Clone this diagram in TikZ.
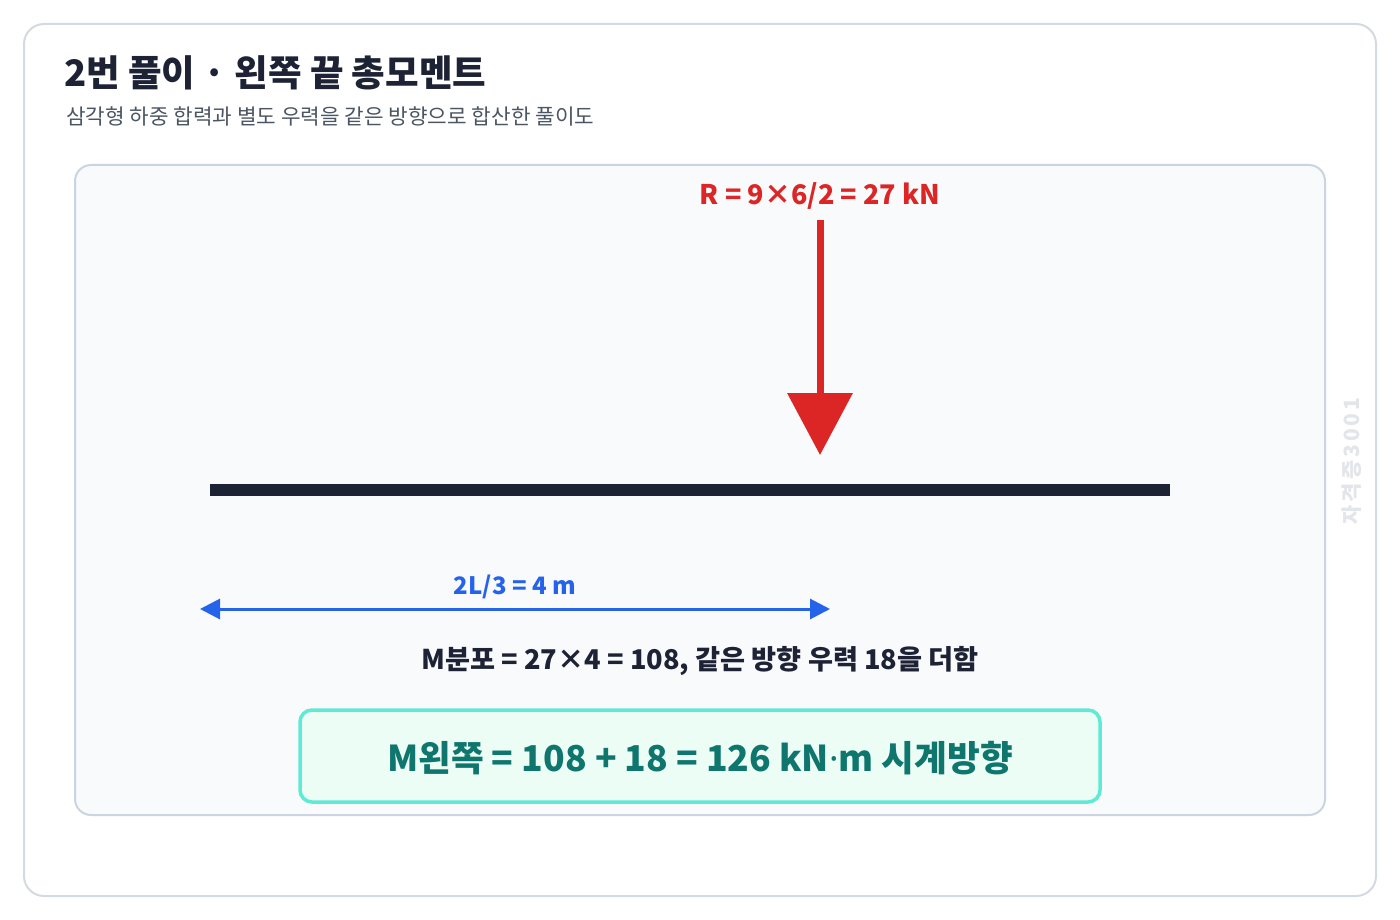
\documentclass[tikz,border=0pt]{standalone}
\usepackage{fontspec}
\setmainfont{Noto Sans CJK KR}
\newfontfamily\latinsans{Noto Sans}
\usetikzlibrary{arrows.meta}
\definecolor{ink}{HTML}{1E2235}
\definecolor{subgray}{HTML}{4B5563}
\definecolor{cardline}{HTML}{D5D9E0}
\definecolor{panelfill}{HTML}{F8FAFC}
\definecolor{panelline}{HTML}{CBD5E1}
\definecolor{forcered}{HTML}{DC2626}
\definecolor{dimblue}{HTML}{2563EB}
\definecolor{resfill}{HTML}{ECFDF5}
\definecolor{resline}{HTML}{5EEAD4}
\definecolor{restext}{HTML}{0F766E}
\definecolor{wmark}{HTML}{E2E5EA}
\tikzset{
  card/.style={draw=cardline, line width=2pt, fill=white, rounded corners=20pt},
  panel/.style={draw=panelline, line width=2pt, fill=panelfill, rounded corners=16pt},
  resbox/.style={draw=resline, line width=3.5pt, fill=resfill, rounded corners=12pt, minimum width=800pt, minimum height=92pt, inner sep=0pt},
  titletext/.style={font=\fontsize{36.5}{42}\selectfont\bfseries, text=ink, inner sep=0pt},
  subtext/.style={font=\fontsize{21.3}{25}\selectfont, text=subgray, inner sep=0pt},
  forcelabel/.style={font=\fontsize{27}{31}\selectfont\bfseries, text=forcered, inner sep=0pt},
  dimlabel/.style={font=\fontsize{24}{28}\selectfont\bfseries, text=dimblue, inner sep=0pt},
  calctext/.style={font=\fontsize{27.2}{31}\selectfont\bfseries, text=ink, inner sep=0pt},
  restextstyle/.style={font=\fontsize{35.6}{42}\selectfont\bfseries, text=restext, inner sep=0pt},
  forcearrow/.style={draw=forcered, line width=7pt, -{Triangle[width=64pt,length=62pt]}},
  beamline/.style={draw=ink, line width=12pt},
  dimarrow/.style={draw=dimblue, line width=3pt, {Triangle[width=20pt,length=20pt]}-{Triangle[width=20pt,length=20pt]}},
  wmarktext/.style={font=\fontsize{21}{24}\selectfont\bfseries\addfontfeature{LetterSpace=14}, text=wmark, inner sep=0pt, rotate=90},
}
\begin{document}
\begin{tikzpicture}[x=1pt,y=-1pt]
\useasboundingbox (0,0) rectangle (1400,920);
\fill[white] (0,0) rectangle (1400,920);
\draw[card] (24,24) rectangle (1376,896);
\node[titletext, anchor=base west] (title) at (64,87) {2번 풀이 · 왼쪽 끝 총모멘트};
\node[subtext, anchor=base west] (subtitle) at (66,125) {삼각형 하중 합력과 별도 우력을 같은 방향으로 합산한 풀이도};
\draw[panel] (75,165) rectangle (1325,815);
\node[forcelabel, anchor=base] (rlabel) at (820,205) {R = 9×6/2 = 27 kN};
\coordinate (rtop) at (820,220);
\coordinate (rtip) at (820,455);
\draw[forcearrow] (rtop) -- (rtip);
\coordinate (beamL) at (210,490);
\coordinate (beamR) at (1170,490);
\draw[beamline] (beamL) -- (beamR);
\coordinate (dimL) at (200,609);
\coordinate (dimR) at (830,609);
\draw[dimarrow] (dimL) -- (dimR);
\node[dimlabel, anchor=base] (dlabel) at (515,594) {2L/3 = 4 m};
\node[calctext, anchor=base] (calc) at (700,669) {M분포 = 27×4 = 108, 같은 방향 우력 18을 더함};
\node[resbox] (res) at (700,756) {};
\node[restextstyle, anchor=base] (restxt) at (700,771) {M왼쪽 = 108 + 18 = 126 kN{\latinsans·}m 시계방향};
\node[wmarktext] (wm) at (1352,461) {자격증3001};
\end{tikzpicture}
\end{document}
